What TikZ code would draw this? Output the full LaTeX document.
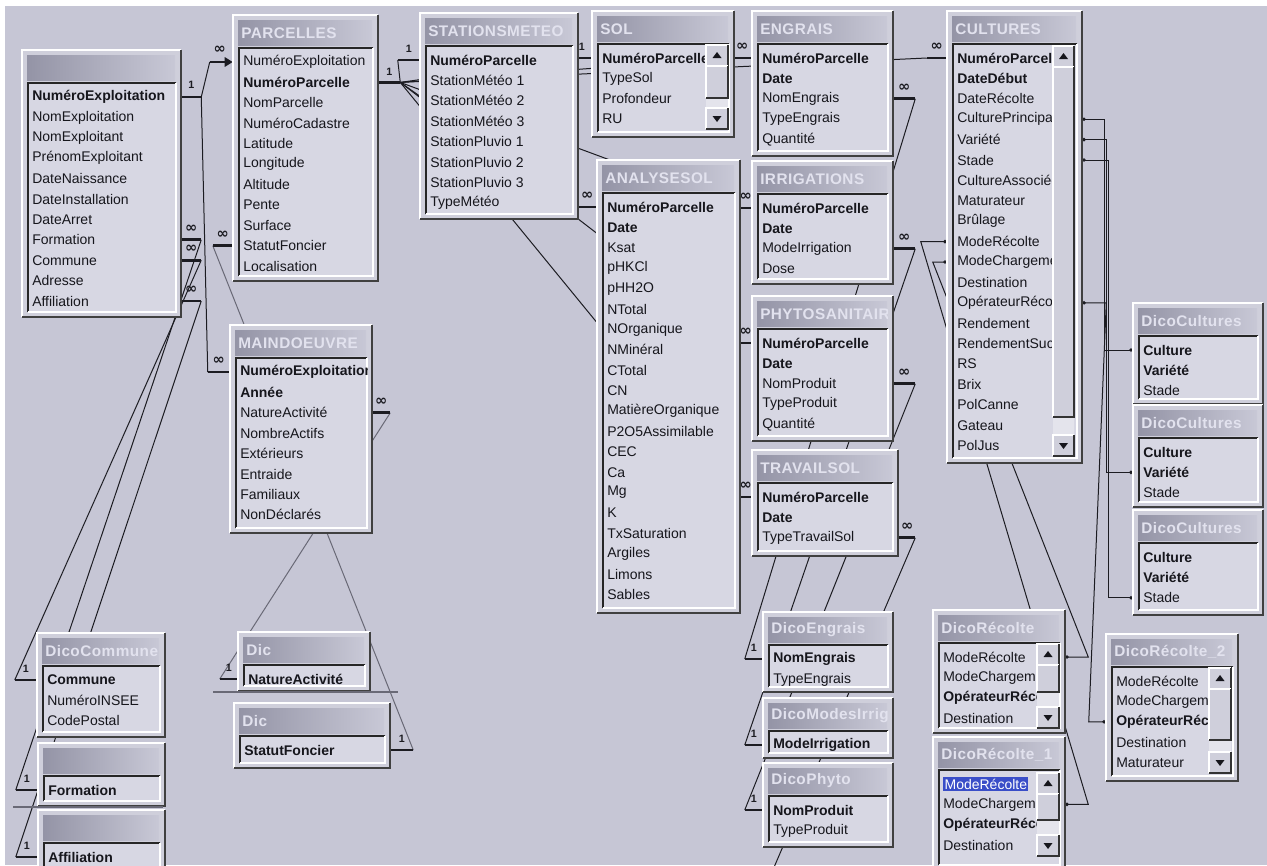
\documentclass[tikz,border=0pt]{standalone}
\usepackage{fontspec}
\setmainfont{Liberation Sans}
\newfontfamily\ttlfont{Liberation Sans}[LetterSpace=3]
\newfontfamily\symbfont{DejaVu Sans}
\usetikzlibrary{fit,calc,arrows.meta}
\pgfdeclarelayer{back}
\pgfdeclarelayer{conn}
\pgfsetlayers{back,conn,main}
\definecolor{bgc}{RGB}{198,198,213}
\definecolor{tfcol}{RGB}{207,207,219}
\definecolor{listbg}{RGB}{215,215,227}
\definecolor{hdA}{RGB}{148,148,166}
\definecolor{hdB}{RGB}{200,200,214}
\definecolor{ttlc}{RGB}{226,226,238}
\definecolor{fldc}{RGB}{22,22,28}
\definecolor{linec}{RGB}{28,28,34}
\definecolor{linec2}{RGB}{105,105,118}
\definecolor{trkcol}{RGB}{228,228,236}
\definecolor{selblue}{RGB}{58,78,200}
\setlength\fboxsep{1pt}
\newcommand\hlsel[1]{\colorbox{selblue}{\textcolor{white}{#1}}}
\newcommand\relone{{\fontsize{8}{8}\selectfont\bfseries 1}}
\newcommand\relmany{{\symbfont\fontsize{11}{11}\selectfont\bfseries ∞}}
\tikzset{
  tbox/.style={fill=tfcol, inner sep=0pt},
  ttl/.style={anchor=west, inner sep=0pt, text=ttlc, font=\ttlfont\bfseries\fontsize{11.5}{12}\selectfont},
  fld/.style={anchor=west, inner sep=0pt, text=fldc, font=\fontsize{10.5}{12}\selectfont},
  rel/.style={draw=linec, line width=0.75pt},
  relg/.style={draw=linec2, line width=0.75pt},
  stub/.style={draw=linec, line width=2.2pt},
  cjoin/.style={draw=linec, line width=0.75pt, {Circle[length=2.6pt]}-{Circle[length=2.6pt]}},
  rl/.style={inner sep=0pt, text=linec},
  hil/.style={draw=white, line width=1.2pt},
  shd/.style={draw=black!75, line width=1.6pt},
  sunk/.style={draw=black!85, line width=1.4pt},
}
% #1 name #2 x1 #3 y1 #4 x2 #5 y2 #6 title #7 fields #8 clip right
\newcommand\dbtable[8]{%
  \coordinate (#1-nw) at (#2,#3);
  \coordinate (#1-se) at (#4,#5);
  \node[tbox, fit=(#1-nw)(#1-se)] (#1) {};
  \draw[hil] (#2,#5) -- (#2,#3) -- (#4,#3);
  \draw[shd] (#4,#3) -- (#4,#5) -- (#2,#5);
  \shade[left color=hdA, right color=hdB] ({#2+5},{#3+5}) rectangle ({#4-6},{#3+30});
  \begin{scope}
    \clip ({#2+5},{#3+5}) rectangle ({#4-6},{#3+30});
    \node[ttl] (#1-t) at ({#2+8},{#3+18}) {#6};
  \end{scope}
  \fill[listbg] ({#2+6},{#3+33}) rectangle ({#4-5},{#5-5});
  \draw[sunk] ({#2+6},{#5-5}) -- ({#2+6},{#3+33}) -- ({#4-5},{#3+33});
  \draw[white, line width=0.8pt] ({#4-5},{#3+33}) -- ({#4-5},{#5-5}) -- ({#2+6},{#5-5});
  \begin{scope}
    \clip ({#2+7},{#3+34}) rectangle ({#8},{#5-6});
    \foreach \fieldtext [count=\k] in {#7}
      \node[fld] (#1-f\k) at ({#2+10},{#3+47+(\k-1)*20.4}) {\fieldtext};
  \end{scope}
}
\newcommand\dbbtn[4]{%
  \fill[tfcol] (#1,{#2}) rectangle (#3,{#4});
  \draw[white, line width=0.8pt] (#1,{#4}) -- (#1,{#2}) -- (#3,{#2});
  \draw[black!80, line width=1pt] (#3,{#2}) -- (#3,{#4}) -- (#1,{#4});
}
% x1 y1 x2 y2 thumbEnd
\newcommand\dbscroll[5]{%
  \fill[trkcol] (#1,#2) rectangle (#3,#4);
  \dbbtn{#1}{#2}{#3}{#2+21}
  \dbbtn{#1}{#2+21}{#3}{#5}
  \dbbtn{#1}{#4-21}{#3}{#4}
  \fill[fldc] ({(#1+#3)/2},{#2+7}) -- ++(-4.5,6) -- ++(9,0) -- cycle;
  \fill[fldc] ({(#1+#3)/2},{#4-7}) -- ++(-4.5,-6) -- ++(9,0) -- cycle;
}
% #1 id #2 src point #3 src dx #4 tgt point #5 tgt dx #6 src label #7 tgt label #8 style
\newcommand\dbrel[8]{%
  \coordinate (#1s0) at #2;
  \coordinate (#1t0) at #4;
  \coordinate (#1s) at ($(#1s0)+(#3,0)$);
  \coordinate (#1t) at ($(#1t0)+(#5,0)$);
  \draw[#8] (#1s) -- (#1t);
  \draw[stub] (#1s0) -- (#1s);
  \draw[stub] (#1t) -- (#1t0);
  \node[rl] (#1ls) at ($(#1s0)!0.5!(#1s)+(0,-11)$) {#6};
  \node[rl] (#1lt) at ($(#1t0)!0.5!(#1t)+(0,-11)$) {#7};
}
\begin{document}
\begin{tikzpicture}[x=0.75pt,y=-0.75pt]
\useasboundingbox (0,0) rectangle (1267,865);
\begin{pgfonlayer}{back}
\fill[white] (0,0) rectangle (1267,865);
\fill[bgc] (5,6) rectangle (1267,865);
\end{pgfonlayer}

% ---------- tables ----------
\dbtable{expl}{22}{50}{181}{317}{}{{\textbf{NuméroExploitation}},NomExploitation,NomExploitant,PrénomExploitant,DateNaissance,DateInstallation,DateArret,Formation,Commune,Adresse,Affiliation}{176}
\dbtable{parc}{233}{15}{378}{281}{PARCELLES}{NuméroExploitation,{\textbf{NuméroParcelle}},NomParcelle,NuméroCadastre,Latitude,Longitude,Altitude,Pente,Surface,StatutFoncier,Localisation}{373}
\dbtable{stat}{420}{13}{578}{219}{STATIONSMETEO}{{\textbf{NuméroParcelle}},StationMétéo 1,StationMétéo 2,StationMétéo 3,StationPluvio 1,StationPluvio 2,StationPluvio 3,TypeMétéo}{573}
\dbtable{sol}{592}{11}{734}{137}{SOL}{{\textbf{NuméroParcelle}},TypeSol,Profondeur,RU}{705}
\dbscroll{706}{45}{728}{129}{98}
\dbtable{engr}{752}{11}{893}{156}{ENGRAIS}{{\textbf{NuméroParcelle}},{\textbf{Date}},NomEngrais,TypeEngrais,Quantité}{888}
\dbtable{cult}{947}{11}{1082}{463}{CULTURES}{{\textbf{NuméroParcelle}},{\textbf{DateDébut}},DateRécolte,CulturePrincipale,Variété,Stade,CultureAssociée,Maturateur,Brûlage,ModeRécolte,ModeChargement,Destination,OpérateurRécolte,Rendement,RendementSucre,RS,Brix,PolCanne,Gateau,PolJus}{1052}
\dbscroll{1053}{46}{1074}{456}{417}
\dbtable{anal}{597}{160}{740}{613}{ANALYSESOL}{{\textbf{NuméroParcelle}},{\textbf{Date}},Ksat,pHKCl,pHH2O,NTotal,NOrganique,NMinéral,CTotal,CN,MatièreOrganique,P2O5Assimilable,CEC,Ca,Mg,K,TxSaturation,Argiles,Limons,Sables}{735}
\dbtable{irr}{752}{161}{893}{284}{IRRIGATIONS}{{\textbf{NuméroParcelle}},{\textbf{Date}},ModeIrrigation,Dose}{888}
\dbtable{phy}{752}{296}{893}{441}{PHYTOSANITAIRES}{{\textbf{NuméroParcelle}},{\textbf{Date}},NomProduit,TypeProduit,Quantité}{888}
\dbtable{trav}{752}{450}{898}{556}{TRAVAILSOL}{{\textbf{NuméroParcelle}},{\textbf{Date}},TypeTravailSol}{893}
\dbtable{main}{230}{325}{372}{533}{MAINDOEUVRE}{{\textbf{NuméroExploitation}},{\textbf{Année}},NatureActivité,NombreActifs,Extérieurs,Entraide,Familiaux,NonDéclarés}{367}
\dbtable{dc1}{1133}{303}{1263}{404}{DicoCultures}{{\textbf{Culture}},{\textbf{Variété}},Stade}{1258}
\dbtable{dc2}{1133}{405}{1263}{507}{DicoCultures}{{\textbf{Culture}},{\textbf{Variété}},Stade}{1258}
\dbtable{dc3}{1133}{510}{1263}{615}{DicoCultures}{{\textbf{Culture}},{\textbf{Variété}},Stade}{1258}
\dbtable{dcom}{37}{633}{165}{737}{DicoCommune}{{\textbf{Commune}},NuméroINSEE,CodePostal}{160}
\dbtable{dform}{38}{743}{165}{806}{}{{\textbf{Formation}}}{160}
\dbtable{daff}{38}{810}{165}{872}{}{{\textbf{Affiliation}}}{160}
\dbtable{dnat}{238}{632}{370}{691}{Dic}{{\textbf{NatureActivité}}}{365}
\dbtable{dstat}{234}{703}{390}{768}{Dic}{{\textbf{StatutFoncier}}}{385}
\dbtable{deng}{763}{612}{893}{692}{DicoEngrais}{{\textbf{NomEngrais}},TypeEngrais}{888}
\dbtable{dmod}{763}{698}{893}{758}{DicoModesIrrigation}{{\textbf{ModeIrrigation}}}{888}
\dbtable{dphy}{763}{763}{893}{847}{DicoPhyto}{{\textbf{NomProduit}},TypeProduit}{888}
\dbtable{drec}{933}{610}{1065}{733}{DicoRécolte}{ModeRécolte,ModeChargement,{\textbf{OpérateurRécolte}},Destination}{1036}
\dbscroll{1037}{644}{1059}{728}{692}
\dbtable{drec1}{933}{737}{1065}{870}{DicoRécolte\_1}{{\hlsel{ModeRécolte}},ModeChargement,{\textbf{OpérateurRécolte}},Destination}{1036}
\dbscroll{1037}{773}{1059}{856}{820}
\dbtable{drec2}{1106}{634}{1238}{781}{DicoRécolte\_2}{ModeRécolte,ModeChargement,{\textbf{OpérateurRécolte}},Destination,Maturateur}{1208}
\dbscroll{1209}{668}{1231}{773}{740}

\draw[linec2, line width=0.8pt] (213,692) -- (398,692);
\draw[linec2, line width=0.8pt] (13,807) -- (163,807);

% ---------- relationships ----------
\begin{pgfonlayer}{conn}
\draw[stub] (expl.east |- expl-f1) -- ++(20,0) coordinate (r1s);
\coordinate (r1t) at ($(parc.west |- parc-f1)+(-23,0)$);
\draw[rel] (r1s) -- (r1t);
\draw[stub,-{Triangle[length=6pt,width=7pt]}] (r1t) -- (parc.west |- parc-f1);
\node[rl] (r1a) at ($(expl.east |- expl-f1)+(10,-12)$) {\relone};
\node[rl] (r1b) at ($(r1t)+(10,-12)$) {\relmany};

\dbrel{r2}{(r1s)}{0}{(main.west |- main-f1)}{-22}{}{\relmany}{rel}
\dbrel{r3}{(expl.east |- expl-f8)}{20}{(dform.west |- dform-f1)}{-22}{\relmany}{\relone}{rel}
\dbrel{r4}{(expl.east |- expl-f9)}{20}{(dcom.west |- dcom-f1)}{-22}{\relmany}{\relone}{rel}
\dbrel{r5}{(expl.east |- expl-f11)}{20}{(daff.west |- daff-f1)}{-22}{\relmany}{\relone}{rel}
\dbrel{r6}{(parc.west |- parc-f10)}{-20}{(dstat.east |- dstat-f1)}{23}{\relmany}{\relone}{relg}
\dbrel{r7}{(main.east |- main-f3)}{18}{(dnat.west |- dnat-f1)}{-18}{\relmany}{\relone}{relg}
\dbrel{r8}{(parc.east |- parc-f2)}{22}{(stat.west |- stat-f1)}{-22}{\relone}{\relone}{rel}
\dbrel{r9}{(r8s)}{0}{(sol.west |- sol-f1)}{-20}{}{\relone}{rel}
\dbrel{r10}{(r8s)}{0}{(engr.west |- engr-f1)}{-19}{}{\relmany}{rel}
\dbrel{r11}{(r8s)}{0}{(anal.west |- anal-f1)}{-19}{}{\relmany}{rel}
\dbrel{r12}{(r8s)}{0}{(irr.west |- irr-f1)}{-12}{}{\relmany}{rel}
\dbrel{r13}{(r8s)}{0}{(phy.west |- phy-f1)}{-12}{}{\relmany}{rel}
\dbrel{r14}{(r8s)}{0}{(trav.west |- trav-f1)}{-12}{}{\relmany}{rel}
\dbrel{r15}{(r8s)}{0}{(cult.west |- cult-f1)}{-20}{}{\relmany}{rel}
\dbrel{r16}{(engr.east |- engr-f3)}{22}{(deng.west |- deng-f1)}{-18}{\relmany}{\relone}{rel}
\dbrel{r17}{(irr.east |- irr-f3)}{22}{(dmod.west |- dmod-f1)}{-18}{\relmany}{\relone}{rel}
\dbrel{r18}{(phy.east |- phy-f3)}{22}{(dphy.west |- dphy-f1)}{-18}{\relmany}{\relone}{rel}

\draw[stub] (trav.east |- trav-f3) -- ++(17,0) coordinate (r19s);
\coordinate (r19e) at (772,872);
\draw[rel] (r19s) -- (r19e);
\node[rl] (r19a) at ($(trav.east |- trav-f3)+(9,-11)$) {\relmany};

\draw[cjoin] (cult.east |- cult-f4) -- ++(22,0) |- (dc1.west |- dc1-f1);
\draw[cjoin] (cult.east |- cult-f5) -- ++(24,0) |- (dc2.west |- dc2-f2);
\draw[cjoin] (cult.east |- cult-f6) -- ++(26,0) |- (dc3.west |- dc3-f3);
\draw[cjoin] (cult.west |- cult-f10) -- ++(-26,0) -- ($(drec1.east |- drec1-f2)+(23,0)$) -- (drec1.east |- drec1-f2);
\draw[cjoin] (cult.west |- cult-f11) -- ++(-14,0) -- ($(drec.east |- drec-f1)+(23,0)$) -- (drec.east |- drec-f1);
\draw[cjoin] (cult.east |- cult-f13) -- ++(24,0) -- ($(drec2.west |- drec2-f3)+(-17,0)$) -- (drec2.west |- drec2-f3);
\end{pgfonlayer}
\end{tikzpicture}
\end{document}
